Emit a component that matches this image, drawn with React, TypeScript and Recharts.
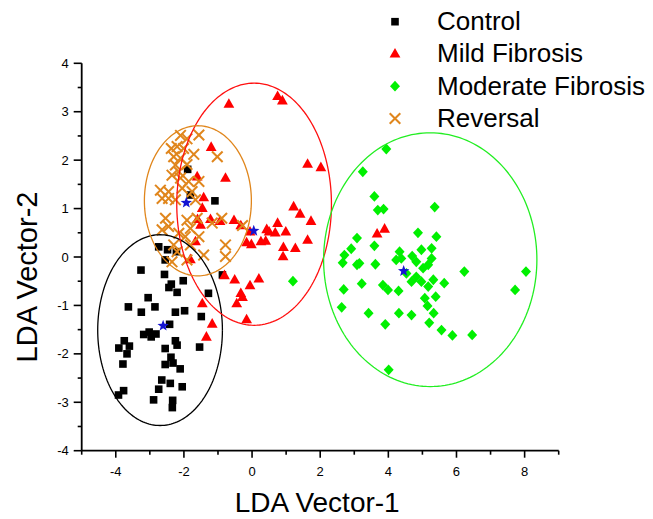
import React from 'react';
import { ScatterChart, Scatter, XAxis, YAxis, Legend } from 'recharts';

const FONT = '"Liberation Sans", Arial, Helvetica, sans-serif';

const categories = ['Control', 'Mild Fibrosis', 'Moderate Fibrosis', 'Reversal'];
const colors = ['#000000', '#FF0000', '#00F000', '#E0861C'];
const ellipseColors = ['#000000', '#FF1010', '#22EE22', '#E0861C'];
const starColor = '#1414D2';

const xTicks = [-5, -4, -3, -2, -1, 0, 1, 2, 3, 4, 5, 6, 7, 8, 9];
const yTicks = [-4, -3.5, -3, -2.5, -2, -1.5, -1, -0.5, 0, 0.5, 1, 1.5, 2, 2.5, 3, 3.5, 4];

const controlPoints: [number, number][] = [
  [-2.74, 0.21], [-2.48, 0.15], [-2.22, 0.11], [-2.55, -0.06], [-3.26, -0.27], [-2.57, -0.36],
  [-2.02, -0.49], [-2.37, -0.56], [-2.44, -0.63], [-2.2, -0.73], [-1.28, -0.75], [-3.05, -0.84],
  [-3.63, -1.03], [-2.85, -1.03], [-3.25, -1.14], [-2.25, -1.14], [-1.98, -1.11], [-2.42, -1.39],
  [-1.49, -1.23], [-3.18, -1.6], [-3.02, -1.55], [-2.96, -1.65], [-2.82, -1.59], [-3.75, -1.73],
  [-3.6, -1.84], [-3.91, -1.88], [-3.67, -2.0], [-3.79, -2.21], [-2.25, -1.73], [-2.2, -1.82],
  [-2.55, -1.89], [-1.54, -1.86], [-2.38, -2.07], [-2.55, -2.22], [-2.32, -2.19], [-2.11, -2.31],
  [-2.65, -2.54], [-2.4, -2.61], [-2.05, -2.68], [-2.74, -2.73], [-3.77, -2.76], [-3.92, -2.85],
  [-2.89, -2.95], [-2.33, -2.96], [-2.34, -3.11], [-1.09, 1.16], [-0.87, -0.37], [-1.89, 1.81],
  [-1.81, 1.28],
];

const mildPoints: [number, number][] = [
  [-0.68, 3.16], [0.75, 3.32], [0.89, 3.23], [1.63, 1.92], [2.02, 1.85], [-1.2, 2.27],
  [-0.78, 1.63], [-1.61, 1.66], [-1.42, 1.23], [-1.46, 1.01], [1.22, 1.04], [1.41, 0.89],
  [1.73, 0.74], [-1.22, 0.78], [-0.94, 0.74], [-0.53, 0.76], [-0.33, 0.65], [-0.06, 0.52],
  [0.43, 0.57], [0.5, 0.52], [0.75, 0.7], [0.68, 0.5], [0.99, 0.52], [-0.16, 0.3],
  [-0.02, 0.26], [0.26, 0.32], [0.4, 0.33], [1.63, 0.35], [0.92, 0.2], [1.27, 0.18],
  [0.91, 0.01], [-1.66, 0.32], [-1.51, 0.66], [-1.81, -0.05], [-0.81, -0.38], [-0.51, -0.47],
  [0.2, -0.45], [-0.06, -0.59], [-0.33, -0.75], [-0.28, -0.83], [-0.45, -0.96], [-1.46, -0.96],
  [-1.17, -1.38], [-0.16, -1.29], [-1.34, -1.65], [3.67, 0.48], [3.89, 0.58], [-1.6, 0.78],
];

const moderatePoints: [number, number][] = [
  [3.94, 2.23], [3.25, 1.76], [3.59, 1.25], [3.69, 0.97], [3.86, 0.99], [5.36, 1.03],
  [4.87, 0.5], [5.41, 0.42], [3.08, 0.39], [3.59, 0.23], [2.91, 0.17], [2.71, 0.04],
  [2.66, -0.12], [3.08, -0.16], [3.15, -0.13], [3.62, -0.15], [4.33, 0.11], [4.23, -0.06],
  [4.38, -0.03], [4.97, 0.15], [5.27, 0.18], [4.7, 0.02], [4.82, -0.1], [5.27, -0.03],
  [5.02, -0.23], [5.17, -0.16], [4.53, -0.34], [4.68, -0.51], [4.82, -0.41], [4.97, -0.51],
  [5.17, -0.61], [5.32, -0.47], [5.64, -0.54], [6.23, -0.3], [8.04, -0.3], [7.72, -0.68],
  [2.69, -0.67], [3.22, -0.55], [3.84, -0.58], [3.99, -0.68], [4.3, -0.7], [5.07, -0.85],
  [5.39, -0.82], [5.15, -1.01], [2.63, -1.04], [3.42, -1.16], [4.31, -1.16], [4.68, -1.2],
  [5.33, -1.16], [3.91, -1.39], [5.2, -1.36], [5.56, -1.51], [5.88, -1.62], [6.46, -1.61],
  [4.01, -2.33], [1.2, -0.5],
];

const reversalPoints: [number, number][] = [
  [-2.1, 2.51], [-1.91, 2.44], [-1.56, 2.52], [-2.37, 2.24], [-2.2, 2.28], [-2.01, 2.24],
  [-2.3, 2.07], [-2.1, 2.04], [-1.71, 2.12], [-2.25, 1.9], [-1.91, 1.91], [-1.02, 2.07],
  [-2.35, 1.69], [-2.1, 1.63], [-1.86, 1.56], [-1.56, 1.56], [-2.69, 1.38], [-2.45, 1.35],
  [-2.05, 1.42], [-1.76, 1.35], [-2.64, 1.21], [-2.25, 1.18], [-2.15, 1.76], [-2.45, 1.21],
  [-1.66, 1.18], [-2.54, 0.8], [-1.91, 0.76], [-1.61, 0.8], [-2.45, 0.63], [-1.81, 0.59],
  [-1.17, 0.7], [-0.89, 0.8], [-0.28, 0.65], [-2.15, 0.49], [-1.96, 0.42], [-1.56, 0.42],
  [-2.3, 0.25], [-1.81, 0.25], [-1.42, 0.04], [-0.78, 0.25], [-0.78, 0.01], [-2.35, -0.1],
  [-1.91, -0.06], [-2.2, 0.11], [-2.64, 0.56],
];

// group centroids (blue stars)
const centroidPoints: [number, number][] = [
  [-2.61, -1.42], [0.05, 0.54], [4.45, -0.29], [-1.93, 1.12],
];

// confidence ellipses: centre and radii in data units
const ellipseCenters: [number, number][] = [[-2.7, -1.51], [0.06, 1.09], [5.23, -0.055], [-1.59, 1.16]];
const ellipseRadii: [number, number][] = [[1.83, 1.97], [2.27, 2.5], [3.13, 2.62], [1.57, 1.55]];

const toRows = (pts: [number, number][]) => pts.map(([x, y]) => ({ x, y }));

const ellipseRows = (i: number) => {
  const [cx, cy] = ellipseCenters[i];
  const [rx, ry] = ellipseRadii[i];
  const n = 180;
  const rows: { x: number; y: number }[] = [];
  for (let k = 0; k <= n; k++) {
    const t = (k / n) * Math.PI * 2;
    rows.push({ x: cx + rx * Math.cos(t), y: cy + ry * Math.sin(t) });
  }
  return rows;
};

const Square = ({ cx, cy, fill }: any) => (
  <rect x={cx - 3.8} y={cy - 3.8} width={7.6} height={7.6} fill={fill} />
);
const Triangle = ({ cx, cy, fill }: any) => (
  <polygon points={`${cx},${cy - 5.8} ${cx - 5.4},${cy + 3.8} ${cx + 5.4},${cy + 3.8}`} fill={fill} />
);
const Diamond = ({ cx, cy, fill }: any) => (
  <polygon points={`${cx},${cy - 5.4} ${cx + 5},${cy} ${cx},${cy + 5.4} ${cx - 5},${cy}`} fill={fill} />
);
const Cross = ({ cx, cy, stroke }: any) => (
  <g stroke={stroke} strokeWidth={2} strokeLinecap="butt">
    <line x1={cx - 5.3} y1={cy - 5.3} x2={cx + 5.3} y2={cy + 5.3} />
    <line x1={cx - 5.3} y1={cy + 5.3} x2={cx + 5.3} y2={cy - 5.3} />
  </g>
);
const Star = ({ cx, cy }: any) => {
  const pts: string[] = [];
  for (let k = 0; k < 10; k++) {
    const r = k % 2 === 0 ? 6 : 2.5;
    const a = -Math.PI / 2 + (k * Math.PI) / 5;
    pts.push(`${cx + r * Math.cos(a)},${cy + r * Math.sin(a)}`);
  }
  return <polygon points={pts.join(' ')} fill={starColor} />;
};
const Nothing = () => <g />;

const markerFor = (i: number, cx: number, cy: number) => {
  if (i === 0) return <Square cx={cx} cy={cy} fill={colors[0]} />;
  if (i === 1) return <Triangle cx={cx} cy={cy} fill={colors[1]} />;
  if (i === 2) return <Diamond cx={cx} cy={cy} fill={colors[2]} />;
  return <Cross cx={cx} cy={cy} stroke={colors[3]} />;
};

const XTick = (props: any) => {
  const { x, y, payload } = props;
  const v = payload.value;
  const major = Math.abs(v % 2) === 0;
  return (
    <g>
      <line x1={x} x2={x} y1={y} y2={y + (major ? 7 : 4)} stroke="#000" strokeWidth={1.6} />
      {major && (
        <text x={x} y={y + 25} textAnchor="middle" fontSize={13} fontFamily={FONT} fill="#000">
          {v}
        </text>
      )}
    </g>
  );
};

const YTick = (props: any) => {
  const { x, y, payload } = props;
  const v = payload.value;
  const major = Number.isInteger(v);
  return (
    <g>
      <line x1={x} x2={x - (major ? 8 : 4)} y1={y} y2={y} stroke="#000" strokeWidth={1.6} />
      {major && (
        <text x={x - 13} y={y + 4.5} textAnchor="end" fontSize={13} fontFamily={FONT} fill="#000">
          {v}
        </text>
      )}
    </g>
  );
};

const XTitle = (props: any) => {
  const vb = props.viewBox || { x: 81.7, y: 450.7, width: 477 };
  return (
    <text x={vb.x + vb.width / 2 - 3} y={vb.y + 61} textAnchor="middle" fontSize={28} fontFamily={FONT} fill="#000">
      LDA Vector-1
    </text>
  );
};

const YTitle = (props: any) => {
  const vb = props.viewBox || { x: 0, y: 63.3, width: 81.7, height: 387.4 };
  const cx = vb.x + vb.width - 45;
  const cy = vb.y + vb.height / 2 + 20;
  return (
    <text x={cx} y={cy} transform={`rotate(-90, ${cx}, ${cy})`} textAnchor="middle" fontSize={29} fontFamily={FONT} fill="#000">
      LDA Vector-2
    </text>
  );
};

const LegendBox = () => {
  const rowsY = [21.7, 53.8, 86.2, 118.5];
  return (
    <svg width={273} height={140} style={{ display: 'block' }}>
      {categories.map((name, i) => (
        <g key={name}>
          {markerFor(i, 15, rowsY[i])}
          <text x={57} y={rowsY[i] + 8.6} fontSize={26} fontFamily={FONT} fill="#000">
            {name}
          </text>
        </g>
      ))}
    </svg>
  );
};

export default function App() {
  const series = [controlPoints, mildPoints, moderatePoints, reversalPoints];
  return (
    <div style={{ position: 'absolute', left: 0, top: 0, width: 653, height: 519, background: '#fff' }}>
      <ScatterChart width={653} height={519} margin={{ top: 63.3, right: 94.3, bottom: 0, left: 0 }}>
        <XAxis
          type="number"
          dataKey="x"
          domain={[-5, 9]}
          ticks={xTicks}
          interval={0}
          allowDataOverflow
          height={68.3}
          tickSize={0}
          tickMargin={0}
          tickLine={false}
          tick={<XTick />}
          stroke="#000"
          axisLine={{ stroke: '#000', strokeWidth: 1.8 }}
          label={<XTitle />}
        />
        <YAxis
          type="number"
          dataKey="y"
          domain={[-4, 4]}
          ticks={yTicks}
          interval={0}
          allowDataOverflow
          width={81.7}
          tickSize={0}
          tickMargin={0}
          tickLine={false}
          tick={<YTick />}
          stroke="#000"
          axisLine={{ stroke: '#000', strokeWidth: 1.8 }}
          label={<YTitle />}
        />
        <Legend
          layout="horizontal"
          verticalAlign="middle"
          align="center"
          content={<LegendBox />}
          wrapperStyle={{ position: 'absolute', top: 0, left: 380, width: 273, height: 140 }}
        />
        {series.map((pts, i) => (
          <Scatter
            key={categories[i]}
            name={categories[i]}
            data={toRows(pts)}
            fill={colors[i]}
            isAnimationActive={false}
            shape={(p: any) => markerFor(i, p.cx, p.cy)}
          />
        ))}
        {categories.map((name, i) => (
          <Scatter
            key={'ell-' + name}
            name={'ellipse ' + name}
            data={ellipseRows(i)}
            legendType="none"
            stroke={ellipseColors[i]}
            fill="none"
            line={{ stroke: ellipseColors[i], strokeWidth: 1.3, fill: 'none' }}
            lineType="joint"
            shape={<Nothing />}
            isAnimationActive={false}
          />
        ))}
        <Scatter
          name="centroids"
          data={toRows(centroidPoints)}
          legendType="none"
          fill={starColor}
          shape={(p: any) => <Star cx={p.cx} cy={p.cy} />}
          isAnimationActive={false}
        />
      </ScatterChart>
    </div>
  );
}
